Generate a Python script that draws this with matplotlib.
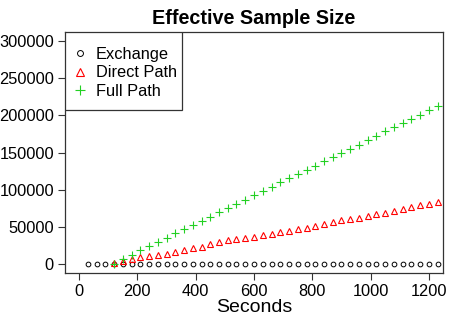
import numpy as np
import matplotlib
matplotlib.use('Agg')
import matplotlib.pyplot as plt
from matplotlib.patches import Rectangle

plt.rcParams['font.family'] = ['Liberation Sans', 'DejaVu Sans']

# Data (seconds vs effective sample size)
t_exchange = np.arange(30, 1231, 30)
ess_exchange = [0] * len(t_exchange)

t_path = np.arange(120, 1231, 30)
ess_direct = [1500, 4000, 6700, 9400, 10700, 12100, 13900, 15700, 18400, 21000,
              23300, 26400, 29500, 31800, 33500, 35400, 36700, 38500, 40200, 42500,
              44200, 46500, 48800, 51500, 53600, 56500, 58600, 60300, 62600, 64300,
              67000, 69300, 71600, 74700, 77300, 79100, 81000, 83100]
ess_full = [0, 6300, 11700, 18400, 23700, 30000, 35400, 41600, 46900, 53200,
            57600, 63000, 69500, 75600, 81400, 86700, 92500, 98400, 104200, 110400,
            115300, 121600, 126500, 132300, 138100, 144000, 148800, 155100, 160500, 166700,
            172100, 178300, 184200, 189500, 195300, 200700, 207000, 212300]

xticks = [0, 200, 400, 600, 800, 1000, 1200]
yticks = [0, 50000, 100000, 150000, 200000, 250000, 300000]

fig = plt.figure(figsize=(4.57, 3.26), dpi=100)
ax = fig.add_axes([65 / 457, 1 - 273 / 326, 378 / 457, 241 / 326])

ax.plot(t_exchange, ess_exchange, 'o', ms=3.4, mfc='none', mec='black', mew=0.7,
        label='Exchange')
ax.plot(t_path, ess_direct, '^', ms=4.2, mfc='none', mec='red', mew=0.8,
        label='Direct Path')
ax.plot(t_path, ess_full, '+', ms=5.6, mec='#22D022', mew=0.8, label='Full Path')

ax.set_xlim(-48, 1248)
ax.set_ylim(-12000, 312000)
ax.set_xticks(xticks)
ax.set_yticks(yticks)
ax.set_yticklabels([str(v) for v in yticks])
ax.tick_params(direction='out', length=5, width=0.8, labelsize=11.8, pad=3,
               color='#333333')
for s in ax.spines.values():
    s.set_color('#333333')
    s.set_linewidth(0.9)

ax.set_title('Effective Sample Size', fontsize=14.2, fontweight='bold', pad=6)
ax.set_xlabel('Seconds', fontsize=14, labelpad=0)

# legend box in the top-left corner, R style
box = Rectangle((0, 163 / 241), 117 / 378, 78 / 241, transform=ax.transAxes,
                facecolor='white', edgecolor='#333333', lw=0.9, zorder=4)
ax.add_patch(box)
leg = ax.legend(loc='upper left', bbox_to_anchor=(8 / 378, 226 / 241),
                borderaxespad=0, borderpad=0, frameon=False, fontsize=11.8,
                handletextpad=0.55, handlelength=0.85, labelspacing=0.2,
                markerscale=1.25)
leg.set_zorder(5)

fig.savefig('out.png', dpi=100)
